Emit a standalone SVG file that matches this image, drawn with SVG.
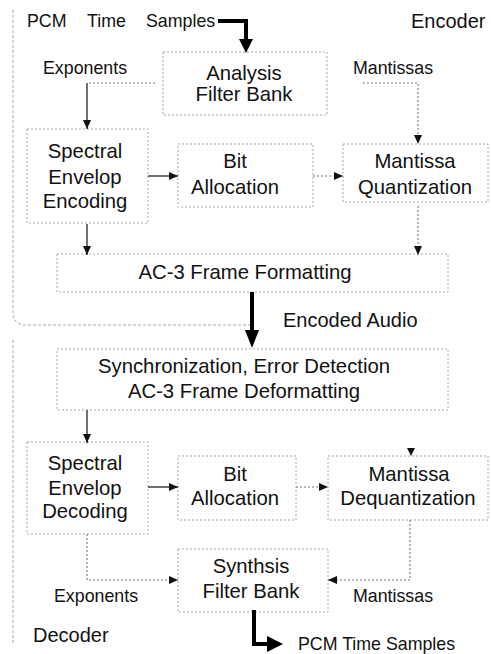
<svg xmlns="http://www.w3.org/2000/svg" width="491" height="654" viewBox="0 0 491 654">
<style>
text{font-family:"Liberation Sans",Arial,sans-serif;fill:#111}
.box{fill:none;stroke:#a8a8a8;stroke-width:1;stroke-dasharray:2 2}
.bt{font-size:20.3px;text-anchor:middle}
.lb{font-size:17.8px}
.big{font-size:20px}
.sol{fill:none;stroke:#111;stroke-width:1.2}
.dot{fill:none;stroke:#777;stroke-width:1.1;stroke-dasharray:2 2}
.thick{fill:none;stroke:#000;stroke-width:4}
.bound{fill:none;stroke:#a8a8a8;stroke-width:1;stroke-dasharray:3 2}
</style>
<defs>
<marker id="ah" markerUnits="userSpaceOnUse" markerWidth="10" markerHeight="8" refX="9" refY="4" orient="auto">
<path d="M0,0 L9,4 L0,8 Z" fill="#111"/>
</marker>
</defs>
<rect width="491" height="654" fill="#fff"/>

<g id="encoder-boundary">
<path class="bound" d="M13,10 V312 Q13,325 26,325 H250"/>
<text class="big" x="411" y="28">Encoder</text>
</g>
<g id="decoder-boundary">
<path class="bound" d="M13,340 V645"/>
<text class="big" x="33" y="642">Decoder</text>
</g>

<g id="pcm-in">
<text class="lb" x="27" y="27">PCM</text>
<text class="lb" x="87" y="27">Time</text>
<text class="lb" x="146" y="27">Samples</text>
</g>

<g id="analysis">
<rect class="box" x="163" y="52" width="164" height="63"/>
<text class="bt" x="244" y="80">Analysis</text>
<text class="bt" x="244" y="101">Filter Bank</text>
</g>

<g id="spectral-enc">
<rect class="box" x="27" y="129" width="121" height="94"/>
<text class="bt" x="85" y="158">Spectral</text>
<text class="bt" x="85" y="184">Envelop</text>
<text class="bt" x="85" y="208">Encoding</text>
</g>

<g id="bitalloc-enc">
<rect class="box" x="178" y="144" width="135" height="63"/>
<text class="bt" x="235" y="168">Bit</text>
<text class="bt" x="235" y="194">Allocation</text>
</g>

<g id="mant-quant">
<rect class="box" x="343" y="144" width="145" height="58"/>
<text class="bt" x="415" y="168">Mantissa</text>
<text class="bt" x="415" y="194">Quantization</text>
</g>

<g id="ac3-format">
<rect class="box" x="57" y="254" width="391" height="38"/>
<text class="bt" x="245" y="279">AC-3 Frame Formatting</text>
</g>

<g id="sync">
<rect class="box" x="57" y="349" width="391" height="61"/>
<text class="bt" x="244" y="373">Synchronization, Error Detection</text>
<text class="bt" x="244" y="398">AC-3 Frame Deformatting</text>
</g>

<g id="spectral-dec">
<rect class="box" x="27" y="442" width="121" height="92"/>
<text class="bt" x="85" y="470">Spectral</text>
<text class="bt" x="85" y="495">Envelop</text>
<text class="bt" x="85" y="518">Decoding</text>
</g>

<g id="bitalloc-dec">
<rect class="box" x="178" y="456" width="118" height="64"/>
<text class="bt" x="235" y="481">Bit</text>
<text class="bt" x="235" y="505">Allocation</text>
</g>

<g id="mant-dequant">
<rect class="box" x="328" y="456" width="160" height="64"/>
<text class="bt" x="409" y="481">Mantissa</text>
<text class="bt" x="408" y="505">Dequantization</text>
</g>

<g id="synth">
<rect class="box" x="178" y="549" width="150" height="63"/>
<text class="bt" x="251" y="573">Synthsis</text>
<text class="bt" x="251" y="598">Filter Bank</text>
</g>

<g id="labels">
<text class="lb" x="43" y="74">Exponents</text>
<text class="lb" x="353" y="74">Mantissas</text>
<text class="big" x="283" y="327">Encoded Audio</text>
<text class="lb" x="54" y="602">Exponents</text>
<text class="lb" x="353" y="602">Mantissas</text>
<text class="lb" x="298" y="650">PCM Time Samples</text>
</g>

<g id="connectors">
<path class="dot" d="M155,83 H87"/>
<path class="sol" d="M87,83 V129" marker-end="url(#ah)"/>
<path class="dot" d="M363,83 H418 V144" marker-end="url(#ah)"/>
<path class="sol" d="M148,176 H178" marker-end="url(#ah)"/>
<path class="dot" d="M313,176 H343" marker-end="url(#ah)"/>
<path class="sol" d="M87,224 V255" marker-end="url(#ah)"/>
<path class="dot" d="M418,206 V255" marker-end="url(#ah)"/>
<path class="sol" d="M87,410 V443" marker-end="url(#ah)"/>
<path class="sol" d="M148,487 H178" marker-end="url(#ah)"/>
<path class="dot" d="M296,487 H328" marker-end="url(#ah)"/>
<path class="dot" d="M87,534 V580 H178" marker-end="url(#ah)"/>
<path class="dot" d="M410,520 V580 H328" marker-end="url(#ah)"/>
<path d="M407,448 L415,448 L411,456 Z" fill="#111"/>
<path class="thick" d="M218,21 H246 V41"/>
<path d="M239,39 L253,39 L246,53 Z" fill="#000"/>
<path class="thick" d="M252,292 V332"/>
<path d="M245,330 L259,330 L252,348 Z" fill="#000"/>
<path class="thick" d="M254,610 V644 H268"/>
<path d="M267,636 L267,652 L283,644 Z" fill="#000"/>
</g>
</svg>
